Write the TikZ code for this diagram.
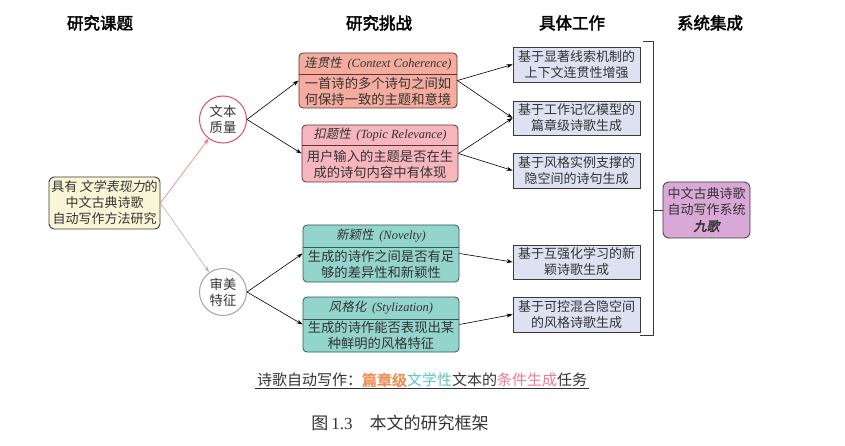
\documentclass[tikz,border=0pt]{standalone}
\usepackage{fontspec}
\setmainfont{Noto Sans CJK SC}[AutoFakeBold=2.5,AutoFakeSlant=0.2]
\newfontfamily\latinf{Liberation Serif}
\usetikzlibrary{arrows.meta}
\definecolor{txt}{HTML}{333333}
\definecolor{bord}{HTML}{3A3A3A}
\definecolor{redA}{HTML}{F5AC9F}
\definecolor{redB}{HTML}{F7B6BE}
\definecolor{redbd}{HTML}{5A3434}
\definecolor{tealA}{HTML}{93D5CD}
\definecolor{tealbd}{HTML}{2E5A55}
\definecolor{workf}{HTML}{DDE1F1}
\definecolor{purp}{HTML}{DAA8D6}
\definecolor{mainf}{HTML}{F8F6D6}
\definecolor{crim}{HTML}{D8506A}
\definecolor{crimline}{HTML}{E47A8A}
\definecolor{grayline}{HTML}{B4B4B4}
\definecolor{orangeT}{HTML}{F28A4E}
\definecolor{tealT}{HTML}{5CC6BE}
\definecolor{pinkT}{HTML}{F27A92}
\begin{document}
\begin{tikzpicture}[x=1pt,y=-1pt,
  colhead/.style={font=\fontsize{16.5}{19}\selectfont\bfseries, text=black},
  bodytxt/.style={font=\fontsize{13.3}{16}\selectfont, text=txt, align=center, inner sep=0pt},
  hdtxt/.style={font=\fontsize{12.5}{14}\selectfont\itshape, text=txt, inner sep=0pt},
  boxbase/.style={rounded corners=4pt, line width=0.8pt},
  redbox/.style={boxbase, draw=redbd},
  tealbox/.style={boxbase, draw=tealbd, fill=tealA},
  sepline/.style={line width=0.8pt},
  workbox/.style={draw=bord, fill=workf, line width=0.8pt, minimum width=127, font=\fontsize{13}{16}\selectfont, text=txt, align=center, inner sep=0pt},
  circ/.style={circle, minimum size=47, inner sep=0pt, line width=1pt, align=center, font=\fontsize{13.3}{16}\selectfont, text=txt},
  arr/.style={-{Stealth[length=6pt,width=4pt]}, line width=0.6pt},
]
\useasboundingbox (0,0) rectangle (845,446);
\fill[white] (0,0) rectangle (845,446);

% column headings
\node[colhead] (h1) at (100,23) {研究课题};
\node[colhead] (h2) at (379,23) {研究挑战};
\node[colhead] (h3) at (572,23) {具体工作};
\node[colhead] (h4) at (710,23) {系统集成};

% main topic
\node[draw=bord, fill=mainf, rounded corners=5pt, line width=0.9pt, minimum width=111, minimum height=52, inner sep=1pt,
      align=center, font=\fontsize{13}{16}\selectfont, text=txt] (main) at (104.5,203)
      {具有\,{\itshape 文学表现力}的\\中文古典诗歌\\自动写作方法研究};

% circles
\node[circ, draw=crim, fill=white] (c1) at (223,119.5) {文本\\质量};
\node[circ, draw=grayline!90!black, fill=white] (c2) at (223,292) {审美\\特征};

% challenge boxes
\node[redbox, fill=redA, minimum width=158, minimum height=55] (r1) at (378,80.5) {};
\node[minimum width=158, minimum height=21, inner sep=0pt] (r1h) at (378,63.5) {};
\draw[sepline, redbd] (r1h.south west) -- (r1h.south east);
\node[hdtxt] (r1t) at (r1h) {连贯性\ \ {\latinf (Context Coherence)}};
\node[bodytxt] (r1b) at (378,91.5) {一首诗的多个诗句之间如\\何保持一致的主题和意境};

\node[redbox, fill=redB, minimum width=156, minimum height=57] (r2) at (380,153.5) {};
\node[minimum width=156, minimum height=20, inner sep=0pt] (r2h) at (380,135) {};
\draw[sepline, redbd] (r2h.south west) -- (r2h.south east);
\node[hdtxt] (r2t) at (r2h) {扣题性\ \ {\latinf (Topic Relevance)}};
\node[bodytxt] (r2b) at (380,164) {用户输入的主题是否在生\\成的诗句内容中有体现};

\node[tealbox, minimum width=156, minimum height=57] (t1) at (381,253.5) {};
\node[minimum width=156, minimum height=22, inner sep=0pt] (t1h) at (381,236) {};
\draw[sepline, tealbd] (t1h.south west) -- (t1h.south east);
\node[hdtxt] (t1t) at (t1h) {新颖性\ \ {\latinf (Novelty)}};
\node[bodytxt] (t1b) at (381,264.5) {生成的诗作之间是否有足\\够的差异性和新颖性};

\node[tealbox, minimum width=156, minimum height=55] (t2) at (381,324.5) {};
\node[minimum width=156, minimum height=22, inner sep=0pt] (t2h) at (381,308) {};
\draw[sepline, tealbd] (t2h.south west) -- (t2h.south east);
\node[hdtxt] (t2t) at (t2h) {风格化\ \ {\latinf (Stylization)}};
\node[bodytxt] (t2b) at (381,335.5) {生成的诗作能否表现出某\\种鲜明的风格特征};

% work boxes
\node[workbox, minimum height=35] (w1) at (576.5,64.5) {基于显著线索机制的\\上下文连贯性增强};
\node[workbox, minimum height=34] (w2) at (576.5,118) {基于工作记忆模型的\\篇章级诗歌生成};
\node[workbox, minimum height=35] (w3) at (576.5,170.5) {基于风格实例支撑的\\隐空间的诗句生成};
\node[workbox, minimum height=34] (w4) at (576.5,262) {基于互强化学习的新\\颖诗歌生成};
\node[workbox, minimum height=35] (w5) at (576.5,314.5) {基于可控混合隐空间\\的风格诗歌生成};

% system box
\node[draw=bord, fill=purp, rounded corners=6pt, line width=0.8pt, minimum width=87, minimum height=56, inner sep=0pt,
      align=center, font=\fontsize{13}{16}\selectfont, text=txt] (sys) at (706.5,210)
      {中文古典诗歌\\自动写作系统\\{\bfseries\itshape 九歌}};

% bracket
\coordinate (bt1) at (643,41);
\coordinate (bt2) at (653,41);
\coordinate (bb2) at (653,335);
\coordinate (bb1) at (640,335);
\coordinate (bm) at (653,210);
\draw[line width=0.8pt, bord] (bt1) -- (bt2) -- (bb2) -- (bb1);
\draw[line width=0.8pt, bord] (bm) -- (sys.west);

% connectors
\draw[arr, crimline] (main.east) -- (c1);
\draw[arr, grayline] (main.east) -- (c2);
\draw[arr] (c1.east) -- (r1.west);
\draw[arr] (c1.east) -- (r2.west);
\draw[arr] (c2.east) -- (t1.west);
\draw[arr] (c2.east) -- (t2.west);
\draw[arr] (r1.east) -- (w1.west);
\draw[arr] (r1.east) -- (w2.west);
\draw[arr] (r2.east) -- (w2.west);
\draw[arr] (r2.east) -- (w3.west);
\draw[arr] (t1.east) -- (w4.west);
\draw[arr] (t2.east) -- (w5.west);

% bottom text
\node[font=\fontsize{15}{17}\selectfont, text=txt, inner sep=1.5pt] (task) at (422,380)
  {诗歌自动写作：{\color{orangeT}\bfseries 篇章级}{\color{tealT}文学性}文本的{\color{pinkT}条件生成}任务};
\draw[line width=0.6pt, txt] (task.south west) -- (task.south east);
\node[font=\fontsize{17}{19}\selectfont, text=txt] (cap) at (400,423) {图\,{\latinf 1.3}\quad 本文的研究框架};
\end{tikzpicture}
\end{document}
